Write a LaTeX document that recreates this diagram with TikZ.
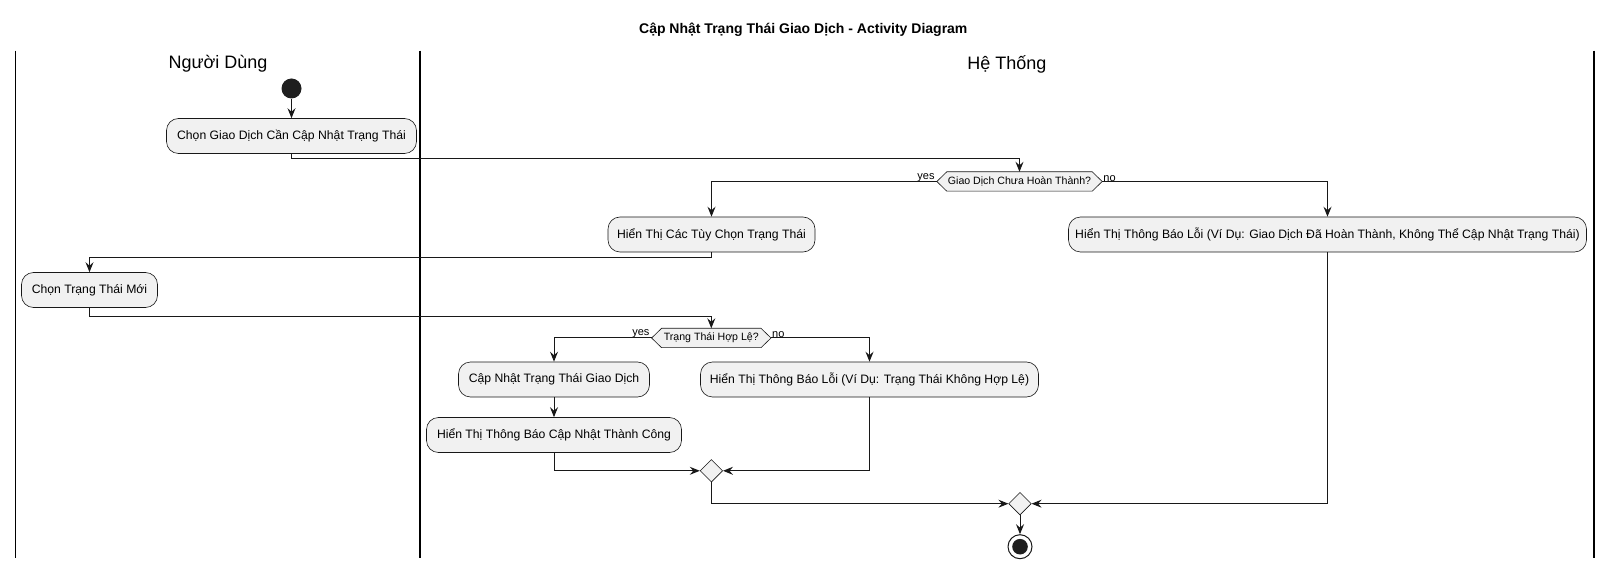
\documentclass[tikz,border=0pt]{standalone}
\usepackage{fontspec}
\setmainfont{Liberation Sans}
\usetikzlibrary{shapes.geometric,arrows.meta,backgrounds,calc}
\definecolor{boxfill}{HTML}{F1F1F1}
\definecolor{ink}{HTML}{181818}
\begin{document}
\begin{tikzpicture}[x=1pt,y=-1pt,
  act/.style={draw=ink,line width=0.6pt,fill=boxfill,rounded corners=12pt,
    minimum height=35pt,inner sep=0pt,font=\fontsize{12.2}{14}\selectfont},
  hexbox/.style={minimum height=19pt,inner sep=0pt,font=\fontsize{10.6}{12}\selectfont},
  hexline/.style={draw=ink,line width=0.6pt,fill=boxfill},
  merge/.style={diamond,aspect=1,draw=ink,line width=0.6pt,fill=boxfill,
    minimum width=22.6pt,minimum height=22.6pt,inner sep=0pt},
  arr/.style={draw=ink,line width=1pt,-{Stealth[length=10pt,width=8pt,inset=3.5pt]}},
  lbl/.style={font=\fontsize{11}{12}\selectfont,inner sep=1pt},
  lane/.style={draw=black,line width=1.3pt},
  lanetitle/.style={font=\fontsize{18}{20}\selectfont}]
\useasboundingbox (0,0) rectangle (1612,569);
% title and swimlanes
\node[font=\fontsize{14}{16}\bfseries\selectfont] (title) at (803.3,30) {Cập Nhật Trạng Thái Giao Dịch - Activity Diagram};
\coordinate (l1t) at (15.5,50.7);  \coordinate (l1b) at (15.5,558);
\coordinate (l2t) at (420,50.7); \coordinate (l2b) at (420,558);
\coordinate (l3t) at (1594,50.7);  \coordinate (l3b) at (1594,558);
\draw[lane] (l1t) -- (l1b);
\draw[lane] (l2t) -- (l2b);
\draw[lane] (l3t) -- (l3b);
\node[lanetitle] (lt1) at (218,64) {Người Dùng};
\node[lanetitle] (lt2) at (1007,64) {Hệ Thống};
% nodes
\node[circle,fill=black!88,minimum size=20pt,inner sep=0pt] (start) at (291.5,88.5) {};
\node[act,minimum width=250pt] (a1) at (291.5,136) {Chọn Giao Dịch Cần Cập Nhật Trạng Thái};
\node[hexbox,minimum width=165pt] (d1) at (1019.5,181.5) {Giao Dịch Chưa Hoàn Thành?};
\node[act,minimum width=207pt] (b1) at (711.5,234.5) {Hiển Thị Các Tùy Chọn Trạng Thái};
\node[act,minimum width=518pt] (b2) at (1327.5,234.5) {Hiển Thị Thông Báo Lỗi (Ví Dụ: Giao Dịch Đã Hoàn Thành, Không Thể Cập Nhật Trạng Thái)};
\node[act,minimum width=136pt] (c1) at (89.5,290) {Chọn Trạng Thái Mới};
\node[hexbox,minimum width=119pt] (d2) at (711.3,338) {Trạng Thái Hợp Lệ?};
\node[act,minimum width=191pt] (e1) at (554,379.5) {Cập Nhật Trạng Thái Giao Dịch};
\node[act,minimum width=255pt] (e2) at (554,435) {Hiển Thị Thông Báo Cập Nhật Thành Công};
\node[act,minimum width=338pt] (f1) at (869.5,379.5) {Hiển Thị Thông Báo Lỗi (Ví Dụ: Trạng Thái Không Hợp Lệ)};
\node[merge] (m1) at (711.4,470.8) {};
\node[merge] (m2) at (1020,503.7) {};
\node[circle,draw=ink,line width=1pt,fill=white,minimum size=24pt,inner sep=0pt,
  path picture={\fill[black!88] (path picture bounding box.center) circle (7.8pt);}] (stop) at (1020,546.7) {};
% hexagon outlines
\begin{scope}[on background layer]
\path[hexline] (d1.west) -- ($(d1.north west)+(10,0)$) -- ($(d1.north east)+(-10,0)$) -- (d1.east)
  -- ($(d1.south east)+(-10,0)$) -- ($(d1.south west)+(10,0)$) -- cycle;
\path[hexline] (d2.west) -- ($(d2.north west)+(10,0)$) -- ($(d2.north east)+(-10,0)$) -- (d2.east)
  -- ($(d2.south east)+(-10,0)$) -- ($(d2.south west)+(10,0)$) -- cycle;
\end{scope}
% branch labels
\node[lbl,anchor=south east] (y1) at ($(d1.west)+(-1,1)$) {yes};
\node[lbl,anchor=south west] (n1) at ($(d1.east)+(0,1)$) {no};
\node[lbl,anchor=south east] (y2) at ($(d2.west)+(-1,1)$) {yes};
\node[lbl,anchor=south west] (n2) at ($(d2.east)+(0,1)$) {no};
% connectors
\draw[arr] (start) -- (a1);
\draw[arr] (a1.south) -- ++(0,5) -| (d1.north);
\draw[arr] (d1.west) -| (b1.north);
\draw[arr] (d1.east) -| (b2.north);
\draw[arr] (b1.south) -- ++(0,5) -| (c1.north);
\draw[arr] (c1.south) -- ++(0,8.5) -| (d2.north);
\draw[arr] (d2.west) -| (e1.north);
\draw[arr] (d2.east) -| (f1.north);
\draw[arr] (e1) -- (e2);
\draw[arr] (e2.south) |- (m1.west);
\draw[arr] (f1.south) |- (m1.east);
\draw[arr] (m1.south) |- (m2.west);
\draw[arr] (b2.south) |- (m2.east);
\draw[arr] (m2) -- (stop);
\end{tikzpicture}
\end{document}
